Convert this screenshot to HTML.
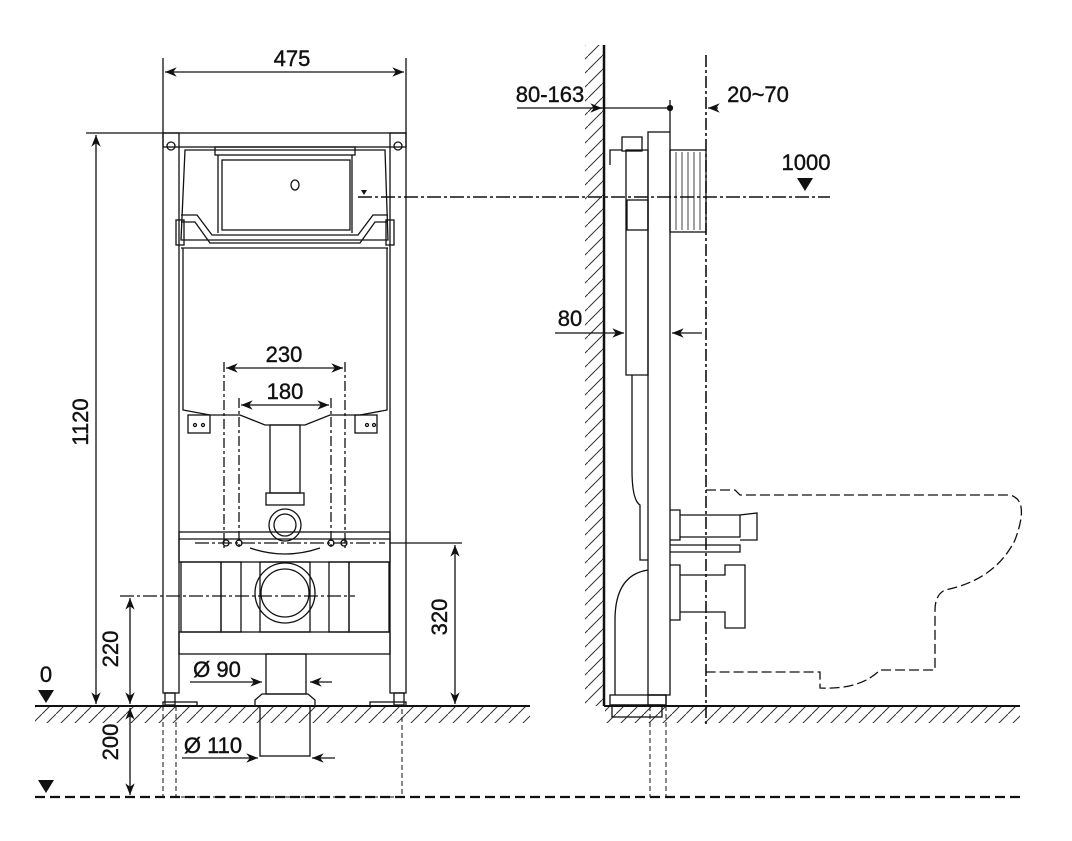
<!DOCTYPE html>
<html><head><meta charset="utf-8"><style>
html,body{margin:0;padding:0;background:#fff}
svg{display:block}
text{font-family:"Liberation Sans",Arial,sans-serif;font-size:22px;fill:#111;stroke:#111;stroke-width:0.4;text-anchor:middle}
</style></head><body>
<svg width="1072" height="841" viewBox="0 0 1072 841" xmlns="http://www.w3.org/2000/svg">
<defs>
<marker id="a" viewBox="0 0 10 10" refX="10" refY="5" markerWidth="9" markerHeight="9" orient="auto-start-reverse"><path d="M0,1 L10,5 L0,9 L3,5 Z" fill="#111"/></marker>
<pattern id="h" width="14" height="14" patternUnits="userSpaceOnUse"><path d="M0,14 L14,0" stroke="#333" stroke-width="1"/></pattern>
</defs>
<g fill="none" stroke="#111" stroke-width="1.3">
<rect x="35" y="707" width="495" height="16" fill="url(#h)" stroke="none"/>
<line x1="35" y1="706" x2="530" y2="706" stroke-width="2"/>
<line x1="35" y1="797" x2="1025" y2="797" stroke-width="2.2" stroke-dasharray="10,5"/>
<line x1="163" y1="58" x2="163" y2="133"/><line x1="406" y1="58" x2="406" y2="133"/>
<line x1="165" y1="72" x2="404" y2="72" marker-start="url(#a)" marker-end="url(#a)"/>
<line x1="86" y1="133" x2="163" y2="133"/>
<line x1="96" y1="135" x2="96" y2="704" marker-start="url(#a)" marker-end="url(#a)"/>
<line x1="130" y1="598" x2="130" y2="704" marker-start="url(#a)" marker-end="url(#a)"/>
<line x1="130" y1="708" x2="130" y2="795" marker-start="url(#a)" marker-end="url(#a)"/>
<line x1="120" y1="596" x2="355" y2="596" stroke-dasharray="14,3,3,3"/>
<line x1="390" y1="543" x2="462" y2="543"/>
<line x1="455" y1="545" x2="455" y2="704" marker-start="url(#a)" marker-end="url(#a)"/>
<line x1="224" y1="362" x2="224" y2="548" stroke-dasharray="10,3,3,3"/>
<line x1="345" y1="362" x2="345" y2="548" stroke-dasharray="10,3,3,3"/>
<line x1="239" y1="398" x2="239" y2="548" stroke-dasharray="10,3,3,3"/>
<line x1="331" y1="398" x2="331" y2="548" stroke-dasharray="10,3,3,3"/>
<line x1="226" y1="368" x2="343" y2="368" marker-start="url(#a)" marker-end="url(#a)"/>
<line x1="241" y1="405" x2="329" y2="405" marker-start="url(#a)" marker-end="url(#a)"/>
<line x1="190" y1="682" x2="262" y2="682" marker-end="url(#a)"/>
<line x1="332" y1="682" x2="310" y2="682" marker-end="url(#a)"/>
<line x1="182" y1="758" x2="258" y2="758" marker-end="url(#a)"/>
<line x1="335" y1="758" x2="312" y2="758" marker-end="url(#a)"/>
<rect x="163" y="133" width="243" height="14"/>
<rect x="163" y="133" width="16" height="560"/><rect x="390" y="133" width="16" height="560"/>
<circle cx="171" cy="146" r="4"/><circle cx="398" cy="146" r="4"/>
<rect x="165" y="693" width="10" height="12"/><rect x="394" y="693" width="10" height="12"/>
<rect x="163" y="702" width="34" height="4"/><rect x="370" y="702" width="36" height="4"/>
<path d="M185,150 L385,150 L388,240 L181,240 Z"/>
<rect x="215" y="147" width="140" height="8"/>
<rect x="222" y="160" width="128" height="70"/>
<line x1="218" y1="155" x2="218" y2="233"/><line x1="352" y1="155" x2="352" y2="233"/>
<ellipse cx="295" cy="185" rx="4" ry="5"/>
<path d="M181,215 L197,215 L212,235 L358,235 L373,215 L388,215"/>
<path d="M181,222 L195,222 L210,243 L360,243 L375,222 L388,222"/>
<rect x="176" y="220" width="8" height="25"/><rect x="386" y="220" width="8" height="25"/>
<line x1="181" y1="248" x2="388" y2="248"/>
<path d="M183,248 L183,410 L210,415 L240,415 L265,425 L305,425 L330,415 L360,415 L387,410 L387,248"/>
<rect x="188" y="415" width="22" height="18"/><rect x="355" y="415" width="22" height="18"/>
<circle cx="195" cy="425" r="1.5"/><circle cx="203" cy="425" r="1.5"/><circle cx="367" cy="425" r="1.5"/><circle cx="374" cy="425" r="1.5"/>
<rect x="270" y="425" width="30" height="68"/>
<rect x="266" y="493" width="38" height="12"/>
<circle cx="285" cy="525" r="16"/><circle cx="285" cy="525" r="11"/>
<rect x="179" y="532" width="211" height="30"/>
<line x1="179" y1="539" x2="390" y2="539"/>
<line x1="195" y1="543" x2="385" y2="543" stroke-dasharray="14,3,3,3"/>
<circle cx="226" cy="543" r="3"/><circle cx="239" cy="543" r="3"/><circle cx="331" cy="543" r="3"/><circle cx="344" cy="543" r="3"/>
<path d="M250,548 Q285,560 320,548"/>
<rect x="181" y="562" width="40" height="70"/><rect x="221" y="562" width="20" height="70"/>
<rect x="349" y="562" width="40" height="70"/><rect x="329" y="562" width="20" height="70"/>
<rect x="260" y="562" width="50" height="70"/>
<circle cx="285" cy="593" r="30"/><circle cx="285" cy="593" r="24"/>
<rect x="179" y="632" width="211" height="22"/>
<rect x="266" y="654" width="40" height="40"/>
<path d="M262,694 L308,694 L315,700 L315,706 L255,706 L255,700 Z"/>
<rect x="260" y="706" width="50" height="50"/>
<path d="M163,706 L163,797 M176,706 L176,797 L402,797 L402,706" stroke-dasharray="5,3" stroke-width="1"/>
<rect x="585" y="45" width="18" height="661" fill="url(#h)" stroke="none"/>
<line x1="604" y1="45" x2="604" y2="706" stroke-width="2.5"/>
<rect x="605" y="707" width="415" height="16" fill="url(#h)" stroke="none"/>
<line x1="604" y1="706" x2="1020" y2="706" stroke-width="2"/>
<line x1="706" y1="55" x2="706" y2="725" stroke-dasharray="12,3,3,3" stroke-width="1.6"/>
<line x1="670" y1="100" x2="670" y2="132" />
<line x1="517" y1="108" x2="670" y2="108"/>
<line x1="597" y1="108" x2="602" y2="108" marker-end="url(#a)"/>
<line x1="718" y1="108" x2="708" y2="108" marker-end="url(#a)"/>
<circle cx="670" cy="108" r="2.5" fill="#111"/>
<line x1="358" y1="197" x2="830" y2="197" stroke-dasharray="14,3,3,3" stroke-width="1.5"/>
<line x1="555" y1="333" x2="624" y2="333" marker-end="url(#a)"/>
<line x1="702" y1="333" x2="672" y2="333" marker-end="url(#a)"/>
<rect x="648" y="132" width="22" height="563"/>
<rect x="648" y="695" width="18" height="10"/>
<rect x="670" y="150" width="36" height="82"/>
<g stroke-width="0.8"><line x1="676" y1="152" x2="676" y2="230"/><line x1="682" y1="152" x2="682" y2="230"/><line x1="688" y1="152" x2="688" y2="230"/><line x1="694" y1="152" x2="694" y2="230"/><line x1="700" y1="152" x2="700" y2="230"/></g>
<path d="M626,150 L648,150 L648,375 L626,375 Z"/>
<rect x="622" y="137" width="20" height="14"/>
<path d="M622,150 L610,150 L610,165"/>
<rect x="627" y="200" width="21" height="30"/>
<path d="M632,375 L632,470 Q632,500 640,505 L640,560 L648,560"/>
<path d="M648,570 Q615,575 615,620 L615,695"/>
<rect x="610" y="695" width="56" height="10"/>
<rect x="612" y="705" width="50" height="12"/>
<path d="M670,510 L680,510 L680,540 L670,540 M680,515 L740,515 M680,537 L740,537 L740,515 L757,513 L757,540 L740,540"/>
<path d="M670,545 L740,545 L740,552 L670,552"/>
<path d="M670,565 L680,565 L680,620 L670,620 M680,575 L725,575 L725,565 L745,565 L745,628 L725,628 L725,612 L680,612"/>
<path d="M650,706 L650,797 M666,706 L666,797" stroke-dasharray="5,3" stroke-width="1"/>
<path d="M706,490 L735,490 L740,495 L1010,495 Q1030,500 1015,540 Q995,580 945,590 Q935,595 935,610 L935,670 L880,670 Q860,690 820,688 L820,672 L706,672" stroke-dasharray="10,4"/>
</g>
<g fill="#111">
<path d="M38,690 L54,690 L46,703 Z"/>
<path d="M38,780 L54,780 L46,793 Z"/>
<path d="M797,178 L813,178 L805,191 Z"/>
<path d="M361,190 L367,190 L364,195 Z"/>
</g>
<text x="292" y="66">475</text>
<text x="284" y="362">230</text>
<text x="285" y="399">180</text>
<text x="217" y="677">Ø 90</text>
<text x="213" y="753">Ø 110</text>
<text x="46" y="682">0</text>
<text x="96" y="430" transform="rotate(-90 88 430)">1120</text>
<text x="126" y="657" transform="rotate(-90 118 657)">220</text>
<text x="126" y="750" transform="rotate(-90 118 750)">200</text>
<text x="455" y="625" transform="rotate(-90 447 625)">320</text>
<text x="550" y="102">80-163</text>
<text x="758" y="102">20~70</text>
<text x="806" y="170">1000</text>
<text x="570" y="326">80</text>
</svg>
</body></html>
